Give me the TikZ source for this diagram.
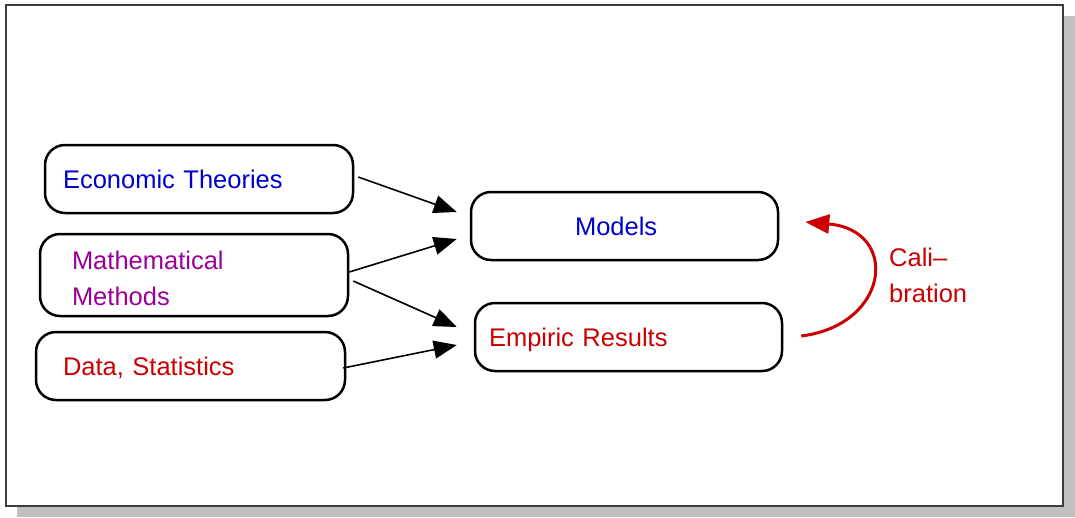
\documentclass[tikz,border=0pt]{standalone}
\usepackage{fontspec}
\setmainfont{Liberation Sans}
\usetikzlibrary{calc,arrows.meta}
\definecolor{theoryblue}{RGB}{0,0,204}
\definecolor{methpurple}{RGB}{153,0,153}
\definecolor{datared}{RGB}{204,0,0}
\definecolor{framegray}{RGB}{60,60,60}
\definecolor{shadowgray}{RGB}{192,192,192}
\tikzset{
  box/.style={draw=black, line width=2.5pt, rounded corners=20pt,
    inner ysep=0pt, minimum height=68pt, align=left,
    font=\fontsize{25.5}{36}\selectfont},
  oneline/.style={text height=18pt, text depth=0pt},
  arr/.style={line width=1.6pt, -{Triangle[length=23pt,width=18pt]}},
  calarr/.style={draw=datared, line width=3pt, -{Triangle[length=24pt,width=19pt]}},
  lbl/.style={font=\fontsize{25.5}{36}\selectfont, align=left, inner sep=0pt}
}
\begin{document}
\begin{tikzpicture}[x=1pt,y=-1pt]
  \useasboundingbox (0,0) rectangle (1075,517);
  % drop shadow and frame
  \fill[shadowgray] (17,16) rectangle (1075,517);
  \filldraw[fill=white, draw=framegray, line width=1.6pt] (6,5) rectangle (1063,506);

  % source boxes
  \node[box, oneline, text=theoryblue, text width=272pt, inner xsep=18pt]
    (et) at (199,179) {Economic Theories};
  \node[box, text=methpurple, text width=244pt, inner xsep=32pt, minimum height=82pt]
    (mm) at (194,275) {\rule{0pt}{24.6pt}Mathematical\\Methods};
  \node[box, oneline, text=datared, text width=255pt, inner xsep=27pt]
    (ds) at (190.5,366) {Data, Statistics};

  % result boxes
  \node[box, oneline, text=theoryblue, text width=99pt, inner xsep=104pt]
    (models) at (624.5,226) {Models};
  \node[box, oneline, text=datared, text width=279pt, inner xsep=14pt]
    (emp) at (628.5,337) {Empiric Results};

  % calibration label
  \node[lbl, text=datared, anchor=north west] (cal) at (889,247.5) {Cali–\\bration};

  % connectors
  \draw[arr] ($(et.east)+(4,-2)$) -- ($(models.west)+(-13,-14)$);
  \draw[arr] ($(mm.east)+(0,-3)$) -- ($(models.west)+(-13,13)$);
  \draw[arr] ($(mm.east)+(4,6)$) -- ($(emp.west)+(-17,-10)$);
  \draw[arr] ($(ds.east)+(-3,2)$) -- ($(emp.west)+(-17,8)$);

  % calibration loop
  \draw[calarr] ($(emp.east)+(18,-1)$) .. controls (890,325) and (900,230) .. ($(models.east)+(26,-4)$);
\end{tikzpicture}
\end{document}
